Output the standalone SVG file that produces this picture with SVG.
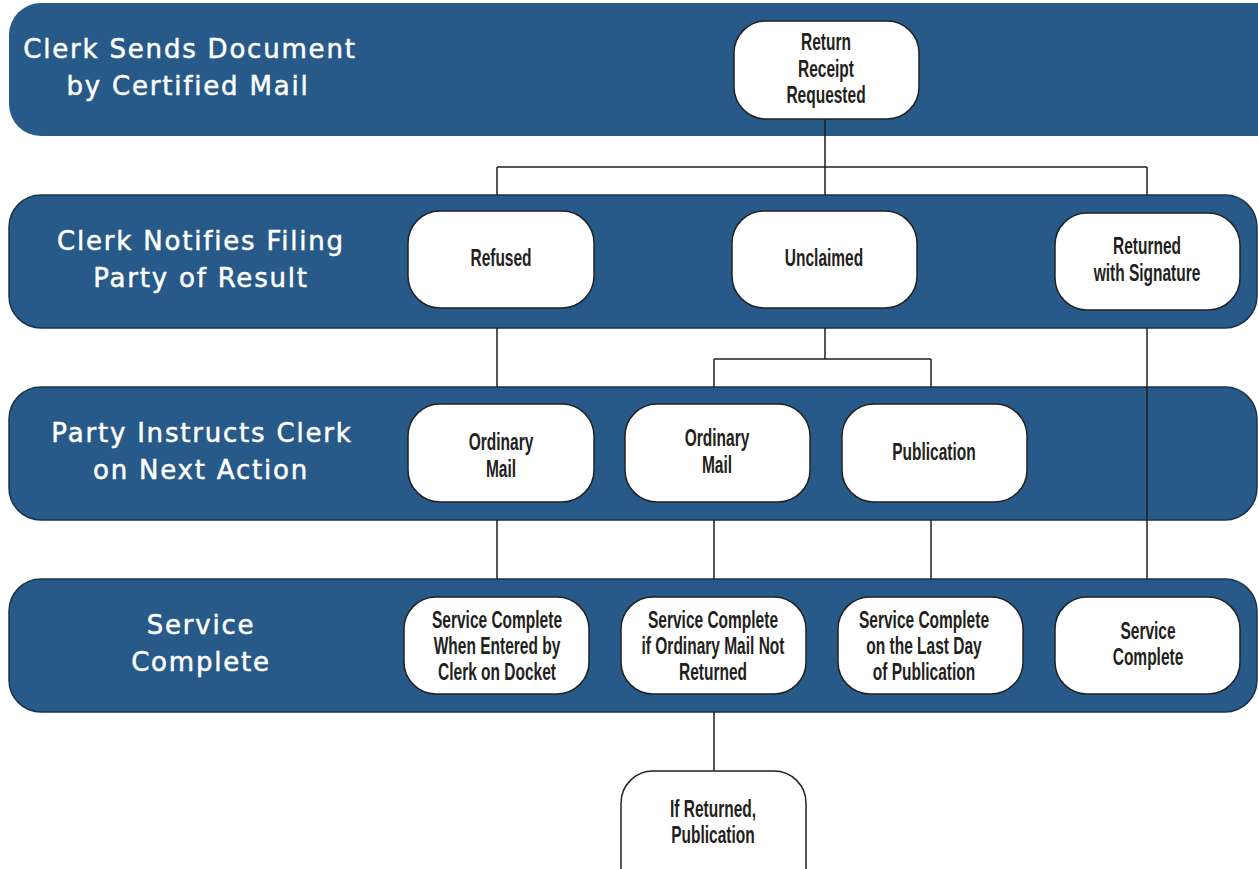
<svg xmlns="http://www.w3.org/2000/svg" width="1258" height="869" viewBox="0 0 1258 869">
<style>
.band{fill:#275a88;stroke:#1d3347;stroke-width:1.5}
.box{fill:#ffffff;stroke:#222;stroke-width:1.5}
.bl{font-family:"DejaVu Sans",sans-serif;font-size:26px;fill:#ffffff;stroke:#ffffff;stroke-width:0.5;letter-spacing:1.8px;text-anchor:middle}
.bt{font-family:"Liberation Sans",Arial,sans-serif;font-weight:bold;font-size:23.5px;fill:#231f20;text-anchor:middle}
.c{fill:none;stroke:#231f20;stroke-width:1.5}
</style>
<rect width="1258" height="869" fill="#ffffff"/>
<g id="band1"><rect x="9" y="3" width="1280" height="133" rx="32" fill="#275a88"/><text class="bl" x="190" y="58">Clerk Sends Document</text><text class="bl" x="188" y="95">by Certified Mail</text></g>
<g id="band2"><rect class="band" x="9" y="195" width="1248" height="133" rx="32"/><text class="bl" x="201" y="250">Clerk Notifies Filing</text><text class="bl" x="201" y="287">Party of Result</text></g>
<g id="band3"><rect class="band" x="9" y="387" width="1248" height="133" rx="32"/><text class="bl" x="202" y="442">Party Instructs Clerk</text><text class="bl" x="201" y="479">on Next Action</text></g>
<g id="band4"><rect class="band" x="9" y="579" width="1248" height="133" rx="32"/><text class="bl" x="201" y="634">Service</text><text class="bl" x="201" y="671">Complete</text></g>
<g id="connectors">
<path class="c" d="M825 119V195M497 167H1147M497 167V195M1147 167V195"/>
<path class="c" d="M497 328V387M825 328V359M714 359H931M714 359V387M931 359V387"/>
<path class="c" d="M1147 328V579M497 520V579M714 520V579M931 520V579M714 712V771"/>
</g>
<g id="n_return_receipt"><rect class="box" x="734" y="21" width="185" height="98" rx="32"/><text class="bt" transform="translate(826,50) scale(0.66,1)">Return</text><text class="bt" transform="translate(826,77) scale(0.66,1)">Receipt</text><text class="bt" transform="translate(826,103) scale(0.66,1)">Requested</text></g>
<g id="n_refused"><rect class="box" x="408" y="211" width="186" height="97" rx="32"/><text class="bt" transform="translate(501,266) scale(0.66,1)">Refused</text></g>
<g id="n_unclaimed"><rect class="box" x="732" y="211" width="185" height="97" rx="32"/><text class="bt" transform="translate(824,266) scale(0.66,1)">Unclaimed</text></g>
<g id="n_returned_sig"><rect class="box" x="1055" y="213" width="185" height="97" rx="32"/><text class="bt" transform="translate(1147,254) scale(0.66,1)">Returned</text><text class="bt" transform="translate(1147,281) scale(0.66,1)">with Signature</text></g>
<g id="n_ordinary1"><rect class="box" x="408" y="404" width="186" height="98" rx="32"/><text class="bt" transform="translate(501,450) scale(0.66,1)">Ordinary</text><text class="bt" transform="translate(501,477) scale(0.66,1)">Mail</text></g>
<g id="n_ordinary2"><rect class="box" x="625" y="404" width="185" height="98" rx="32"/><text class="bt" transform="translate(717,446) scale(0.66,1)">Ordinary</text><text class="bt" transform="translate(717,473) scale(0.66,1)">Mail</text></g>
<g id="n_publication"><rect class="box" x="842" y="404" width="185" height="98" rx="32"/><text class="bt" transform="translate(934,460) scale(0.66,1)">Publication</text></g>
<g id="n_sc1"><rect class="box" x="404" y="597" width="185" height="97" rx="32"/><text class="bt" transform="translate(497,628) scale(0.66,1)">Service Complete</text><text class="bt" transform="translate(497,654) scale(0.66,1)">When Entered by</text><text class="bt" transform="translate(497,680) scale(0.66,1)">Clerk on Docket</text></g>
<g id="n_sc2"><rect class="box" x="621" y="597" width="185" height="97" rx="32"/><text class="bt" transform="translate(713,628) scale(0.66,1)">Service Complete</text><text class="bt" transform="translate(713,654) scale(0.66,1)">if Ordinary Mail Not</text><text class="bt" transform="translate(713,680) scale(0.66,1)">Returned</text></g>
<g id="n_sc3"><rect class="box" x="838" y="597" width="185" height="97" rx="32"/><text class="bt" transform="translate(924,628) scale(0.66,1)">Service Complete</text><text class="bt" transform="translate(924,654) scale(0.66,1)">on the Last Day</text><text class="bt" transform="translate(924,680) scale(0.66,1)">of Publication</text></g>
<g id="n_sc4"><rect class="box" x="1055" y="597" width="185" height="97" rx="32"/><text class="bt" transform="translate(1148,639) scale(0.66,1)">Service</text><text class="bt" transform="translate(1148,665) scale(0.66,1)">Complete</text></g>
<g id="n_if_returned"><rect class="box" x="621" y="771" width="185" height="130" rx="32"/><text class="bt" transform="translate(713,817) scale(0.66,1)">If Returned,</text><text class="bt" transform="translate(713,843) scale(0.66,1)">Publication</text></g>
</svg>
